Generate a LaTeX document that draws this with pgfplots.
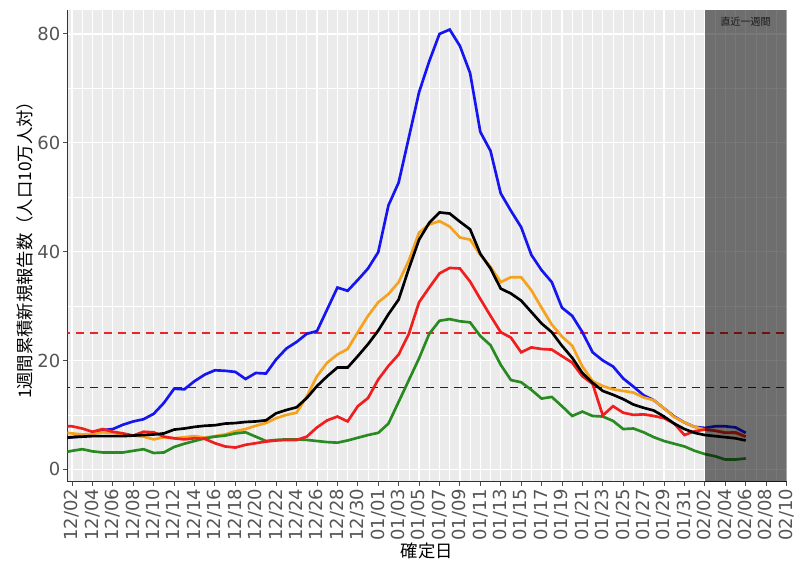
\documentclass[border=0pt]{standalone}
\usepackage{fontspec}
\setmainfont{Noto Sans CJK JP}
\newfontfamily\tickfont{DejaVu Sans}
\usepackage{pgfplots}
\usepackage{pgfplotstable}
\pgfplotsset{compat=1.18}
\definecolor{panelbg}{HTML}{EBEBEB}
\definecolor{ticktxt}{HTML}{555555}
\definecolor{sblue}{HTML}{1515F0}
\definecolor{sorange}{HTML}{F5A21E}
\definecolor{sred}{HTML}{F01E1E}
\definecolor{sgreen}{HTML}{2A8A22}
\definecolor{dashred}{HTML}{E8262A}
\pgfplotstableread{
d blue orange black red green
-1 5.8 6.8 5.7 7.9 3.0
0 5.9 6.6 5.9 7.9 3.4
1 6.1 6.4 6.0 7.5 3.7
2 6.5 6.5 6.1 6.9 3.3
3 7.2 6.8 6.1 7.4 3.1
4 7.4 6.7 6.1 6.9 3.1
5 8.2 6.4 6.1 6.6 3.1
6 8.8 6.2 6.2 6.2 3.4
7 9.2 6.0 6.3 6.9 3.7
8 10.2 5.5 6.4 6.8 3.0
9 12.2 5.9 6.6 6.0 3.1
10 14.8 5.7 7.3 5.7 4.1
11 14.7 5.9 7.5 5.5 4.7
12 16.2 6.1 7.8 5.7 5.2
13 17.4 5.8 8.0 5.6 5.7
14 18.2 6.1 8.1 4.8 6.0
15 18.1 6.4 8.4 4.2 6.2
16 17.9 7.0 8.5 4.0 6.6
17 16.6 7.4 8.7 4.5 6.8
18 17.7 8.0 8.8 4.8 6.0
19 17.6 8.5 9.0 5.1 5.2
20 20.2 9.4 10.3 5.3 5.4
21 22.2 10.0 10.9 5.4 5.5
22 23.4 10.4 11.4 5.4 5.5
23 24.9 13.4 13.1 6.0 5.4
24 25.4 17.1 15.3 7.7 5.2
25 29.4 19.6 17.1 9.0 5.0
26 33.4 21.1 18.7 9.7 4.9
27 32.8 22.1 18.7 8.8 5.3
28 34.8 25.2 20.8 11.6 5.8
29 36.9 28.2 23.0 13.1 6.3
30 39.9 30.7 25.5 16.5 6.7
31 48.5 32.2 28.5 19.0 8.4
32 52.7 34.4 31.2 21.1 12.4
33 61.0 38.4 36.9 24.9 16.4
34 69.3 43.5 42.2 30.7 20.4
35 75.0 45.0 45.3 33.4 24.9
36 80.0 45.6 47.2 36.0 27.3
37 80.8 44.6 47.0 37.0 27.6
38 77.8 42.6 45.5 36.9 27.2
39 72.8 42.2 44.1 34.5 27.0
40 62.0 39.4 39.6 31.3 24.5
41 58.5 37.2 36.9 28.2 22.8
42 50.7 34.4 33.2 25.2 19.2
43 47.5 35.3 32.3 24.2 16.4
44 44.5 35.3 31.0 21.5 16.0
45 39.4 32.9 28.9 22.4 14.6
46 36.6 29.7 26.8 22.1 13.0
47 34.4 26.6 25.2 22.0 13.3
48 29.7 24.4 22.7 20.8 11.6
49 28.2 22.7 20.5 19.6 9.8
50 25.2 18.9 17.7 17.1 10.6
51 21.5 16.2 15.9 15.7 9.8
52 20.0 15.3 14.4 9.9 9.7
53 18.9 14.7 13.7 11.6 8.9
54 16.7 14.4 12.9 10.4 7.4
55 15.2 14.1 11.9 10.0 7.5
56 13.6 13.2 11.3 10.1 6.8
57 12.7 12.7 10.8 9.8 5.9
58 11.2 11.2 9.7 9.4 5.2
59 9.7 9.6 8.4 8.4 4.7
60 8.6 8.6 7.4 6.3 4.2
61 7.8 7.8 6.7 7.0 3.4
62 7.6 7.3 6.3 7.3 2.8
63 7.9 7.1 6.1 7.1 2.4
64 7.9 6.8 5.9 6.7 1.8
65 7.7 6.6 5.7 6.8 1.8
66 6.7 6.0 5.3 6.0 2.0
}\datatable
\begin{document}
\begin{tikzpicture}
\useasboundingbox (0,0) rectangle (602.25pt,424.5pt);
\begin{axis}[
  at={(50.5pt,63.2pt)}, anchor=south west,
  scale only axis, width=539.4pt, height=353.8pt,
  xmin=-0.46, xmax=70, ymin=-2.28, ymax=84.4,
  axis x line*=bottom, axis y line*=left,
  axis line style={black!80, line width=0.9pt},
  axis background/.style={fill=panelbg},
  xtick={0,2,...,70},
  xticklabels={12/02,12/04,12/06,12/08,12/10,12/12,12/14,12/16,12/18,12/20,12/22,12/24,12/26,12/28,12/30,01/01,01/03,01/05,01/07,01/09,01/11,01/13,01/15,01/17,01/19,01/21,01/23,01/25,01/27,01/29,01/31,02/02,02/04,02/06,02/08,02/10},
  minor xtick={1,3,...,69},
  ytick={0,20,40,60,80},
  minor ytick={10,30,50,70},
  grid=both,
  major grid style={white, line width=0.9pt},
  minor grid style={white, line width=0.45pt},
  tick align=outside,
  major tick length=3pt,
  minor tick length=0pt,
  tick style={black!70, line width=0.7pt},
  /pgf/number format/assume math mode=true,
  ticklabel style={text=ticktxt, font=\tickfont\fontsize{13.5}{14}\selectfont},
  xticklabel style={rotate=90, anchor=east, inner sep=2pt},
  yticklabel style={inner sep=2pt},
  xlabel={確定日},
  ylabel={1週間累積新規報告数（人口10万人対）},
  label style={font=\fontsize{13}{14}\selectfont, text=black},
  xlabel style={yshift=4pt},
  ylabel style={yshift=-2pt},
  clip=true,
]
\addplot[dashred, dash pattern=on 6pt off 4.5pt, line width=1.2pt] coordinates {(-1,25) (71,25)};
\addplot[black!85, dash pattern=on 6pt off 4.5pt, line width=1.2pt] coordinates {(-1,15) (71,15)};
\addplot[sblue, line width=2pt] table[x=d, y=blue] {\datatable};
\addplot[sorange, line width=2pt] table[x=d, y=orange] {\datatable};
\addplot[sgreen, line width=2pt] table[x=d, y=green] {\datatable};
\addplot[sred, line width=2pt] table[x=d, y=red] {\datatable};
\addplot[black, line width=2pt] table[x=d, y=black] {\datatable};
\fill[black, opacity=0.53] (axis cs:62,-2.28) rectangle (axis cs:70,84.4);
\node[font=\fontsize{7.5}{8}\selectfont, text=black!90] at (axis cs:66,82.2) {直近一週間};
\end{axis}
\end{tikzpicture}
\end{document}
